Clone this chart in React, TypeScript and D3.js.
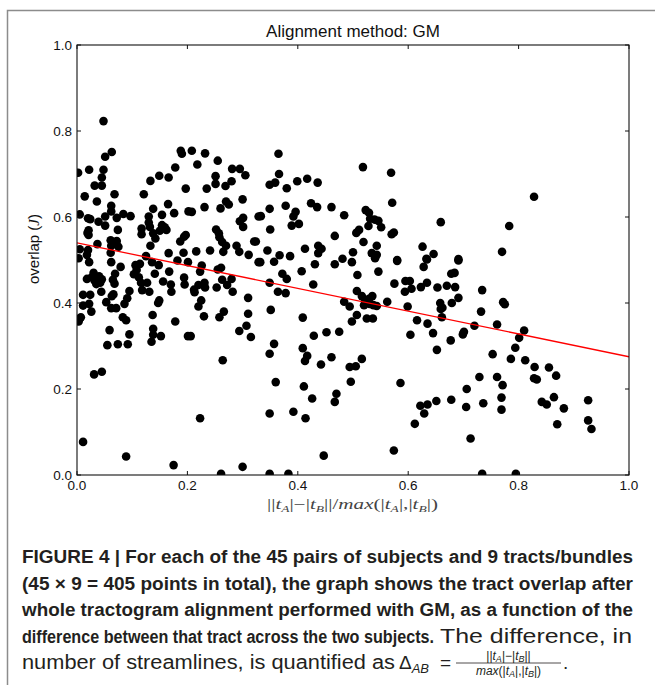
import * as d3 from 'd3'

type Pt = [number, number]

// [difference, overlap], grouped by x band
const bandA: Pt[] = [
  [0.048, 0.823], [0.063, 0.751], [0.051, 0.74], [0.048, 0.71], [0.022, 0.71], [0.002, 0.703], [0.045, 0.692],
  [0.045, 0.673], [0.032, 0.673], [0.014, 0.648], [0.068, 0.653], [0.036, 0.636], [0.062, 0.626], [0.062, 0.613],
  [0.005, 0.606], [0.051, 0.601], [0.084, 0.607], [0.097, 0.602], [0.072, 0.598], [0.024, 0.595], [0.039, 0.589],
  [0.051, 0.58], [0.021, 0.569], [0.074, 0.57], [0.021, 0.558], [0.061, 0.546], [0.072, 0.544], [0.037, 0.537],
  [0.062, 0.533], [0.075, 0.531], [0.018, 0.512], [0.061, 0.517], [0.003, 0.504], [0.005, 0.525], [0.02, 0.523],
  [0.019, 0.563], [0.02, 0.597], [0.022, 0.495], [0.027, 0.46], [0.018, 0.456], [0.032, 0.452], [0.04, 0.462],
  [0.045, 0.455], [0.042, 0.447], [0.035, 0.444], [0.03, 0.47], [0.065, 0.454], [0.069, 0.468], [0.062, 0.495],
  [0.079, 0.484], [0.068, 0.445], [0.044, 0.426], [0.011, 0.419], [0.024, 0.419], [0.011, 0.394], [0.007, 0.367],
  [0.003, 0.357], [0.026, 0.38], [0.053, 0.402], [0.063, 0.416], [0.066, 0.42], [0.062, 0.388], [0.071, 0.388],
  [0.059, 0.337], [0.055, 0.302], [0.074, 0.304], [0.092, 0.304], [0.095, 0.327], [0.083, 0.367], [0.089, 0.36],
  [0.086, 0.398], [0.091, 0.411], [0.095, 0.428], [0.031, 0.234], [0.045, 0.24], [0.011, 0.077], [0.089, 0.043],
  [0.022, 0.398], [0.005, 0.364],
]

const bandB: Pt[] = [
  [0.121, 0.653], [0.133, 0.684], [0.149, 0.696], [0.166, 0.692], [0.178, 0.715], [0.188, 0.754], [0.19, 0.747],
  [0.165, 0.63], [0.138, 0.619], [0.13, 0.601], [0.154, 0.605], [0.176, 0.609], [0.197, 0.666], [0.13, 0.587],
  [0.117, 0.573], [0.117, 0.56], [0.132, 0.577], [0.138, 0.562], [0.142, 0.55], [0.154, 0.581], [0.159, 0.576],
  [0.15, 0.568], [0.162, 0.57], [0.133, 0.533], [0.166, 0.516], [0.187, 0.543], [0.194, 0.554], [0.197, 0.558],
  [0.193, 0.517], [0.125, 0.509], [0.103, 0.467], [0.108, 0.477], [0.106, 0.488], [0.114, 0.491], [0.112, 0.46],
  [0.116, 0.447], [0.118, 0.43], [0.131, 0.426], [0.127, 0.447], [0.136, 0.495], [0.148, 0.488], [0.141, 0.468],
  [0.156, 0.45], [0.167, 0.473], [0.17, 0.443], [0.171, 0.426], [0.149, 0.406], [0.147, 0.4], [0.137, 0.372],
  [0.138, 0.34], [0.138, 0.326], [0.135, 0.31], [0.152, 0.323], [0.178, 0.357], [0.182, 0.499], [0.194, 0.459],
  [0.195, 0.443], [0.175, 0.023],
]

const bandC: Pt[] = [
  [0.208, 0.754], [0.232, 0.748], [0.255, 0.731], [0.218, 0.722], [0.281, 0.712], [0.295, 0.712], [0.305, 0.697],
  [0.251, 0.695], [0.28, 0.683], [0.251, 0.677], [0.269, 0.672], [0.235, 0.666], [0.202, 0.613], [0.208, 0.612],
  [0.231, 0.623], [0.26, 0.62], [0.27, 0.636], [0.275, 0.629], [0.3, 0.641], [0.301, 0.598], [0.295, 0.59],
  [0.329, 0.601], [0.216, 0.52], [0.241, 0.522], [0.252, 0.571], [0.257, 0.562], [0.258, 0.553], [0.263, 0.542],
  [0.265, 0.519], [0.27, 0.533], [0.289, 0.533], [0.294, 0.519], [0.311, 0.512], [0.321, 0.543], [0.301, 0.577],
  [0.201, 0.495], [0.223, 0.473], [0.226, 0.487], [0.212, 0.431], [0.213, 0.425], [0.22, 0.442], [0.231, 0.447],
  [0.232, 0.436], [0.225, 0.406], [0.22, 0.392], [0.23, 0.369], [0.201, 0.323], [0.206, 0.323], [0.253, 0.436],
  [0.263, 0.454], [0.28, 0.456], [0.272, 0.442], [0.282, 0.426], [0.261, 0.482], [0.255, 0.478], [0.258, 0.367],
  [0.266, 0.38], [0.264, 0.267], [0.223, 0.132], [0.294, 0.335], [0.307, 0.347], [0.31, 0.375], [0.315, 0.321],
  [0.31, 0.412], [0.261, 0.003], [0.3, 0.019], [0.329, 0.495], [0.332, 0.495], [0.324, 0.543], [0.333, 0.602],
  [0.345, 0.522],
]

const bandD: Pt[] = [
  [0.365, 0.747], [0.366, 0.7], [0.349, 0.675], [0.359, 0.68], [0.38, 0.667], [0.399, 0.683], [0.417, 0.689],
  [0.436, 0.68], [0.518, 0.716], [0.349, 0.619], [0.378, 0.626], [0.424, 0.632], [0.435, 0.623], [0.461, 0.623],
  [0.484, 0.604], [0.396, 0.612], [0.392, 0.601], [0.402, 0.584], [0.389, 0.58], [0.35, 0.571], [0.523, 0.616],
  [0.529, 0.61], [0.531, 0.596], [0.539, 0.594], [0.546, 0.591], [0.528, 0.579], [0.506, 0.563], [0.511, 0.57],
  [0.467, 0.556], [0.367, 0.511], [0.386, 0.509], [0.413, 0.526], [0.437, 0.533], [0.443, 0.526], [0.437, 0.516],
  [0.5, 0.518], [0.519, 0.542], [0.543, 0.533], [0.534, 0.516], [0.543, 0.512], [0.481, 0.503], [0.357, 0.496],
  [0.407, 0.474], [0.431, 0.49], [0.467, 0.49], [0.498, 0.495], [0.546, 0.473], [0.54, 0.504], [0.372, 0.468],
  [0.38, 0.456], [0.349, 0.447], [0.364, 0.426], [0.378, 0.423], [0.428, 0.443], [0.508, 0.465], [0.507, 0.428],
  [0.484, 0.403], [0.494, 0.392], [0.516, 0.416], [0.522, 0.405], [0.529, 0.41], [0.535, 0.416], [0.53, 0.398],
  [0.537, 0.395], [0.543, 0.393], [0.52, 0.395], [0.507, 0.372], [0.498, 0.357], [0.525, 0.364], [0.536, 0.364],
  [0.351, 0.384], [0.409, 0.366], [0.429, 0.324], [0.452, 0.332], [0.475, 0.333], [0.357, 0.305], [0.349, 0.282],
  [0.409, 0.295], [0.417, 0.277], [0.413, 0.265], [0.442, 0.257], [0.461, 0.274], [0.516, 0.27], [0.494, 0.251],
  [0.505, 0.253], [0.36, 0.216], [0.411, 0.206], [0.496, 0.217], [0.426, 0.178], [0.47, 0.189], [0.467, 0.17],
  [0.349, 0.143], [0.392, 0.147], [0.414, 0.132], [0.447, 0.045], [0.349, 0.003], [0.383, 0.003],
]

const bandE: Pt[] = [
  [0.569, 0.703], [0.571, 0.633], [0.551, 0.576], [0.57, 0.56], [0.574, 0.564], [0.659, 0.588], [0.626, 0.531],
  [0.646, 0.514], [0.633, 0.503], [0.58, 0.5], [0.828, 0.647], [0.783, 0.579], [0.77, 0.519], [0.691, 0.502],
  [0.58, 0.498], [0.634, 0.501], [0.628, 0.484], [0.562, 0.403], [0.575, 0.445], [0.595, 0.451], [0.603, 0.451],
  [0.594, 0.426], [0.606, 0.433], [0.623, 0.437], [0.634, 0.447], [0.653, 0.436], [0.599, 0.392], [0.616, 0.36],
  [0.635, 0.352], [0.645, 0.33], [0.658, 0.4], [0.659, 0.386], [0.604, 0.326], [0.652, 0.291], [0.586, 0.214],
  [0.622, 0.161], [0.635, 0.164], [0.629, 0.143], [0.612, 0.119], [0.651, 0.172], [0.574, 0.057], [0.691, 0.499],
  [0.678, 0.468], [0.684, 0.47], [0.67, 0.44], [0.685, 0.437], [0.691, 0.412], [0.679, 0.4], [0.662, 0.389],
  [0.734, 0.43], [0.732, 0.38], [0.772, 0.402], [0.775, 0.397], [0.661, 0.367], [0.72, 0.347], [0.761, 0.35],
  [0.701, 0.333], [0.699, 0.327], [0.677, 0.313], [0.81, 0.336], [0.801, 0.319], [0.794, 0.296], [0.753, 0.281],
  [0.786, 0.27], [0.812, 0.267], [0.829, 0.251], [0.855, 0.25], [0.828, 0.225], [0.833, 0.222], [0.868, 0.231],
  [0.729, 0.228], [0.761, 0.228], [0.771, 0.209], [0.706, 0.2], [0.678, 0.175], [0.705, 0.158], [0.736, 0.167],
  [0.769, 0.18], [0.769, 0.152], [0.842, 0.17], [0.851, 0.164], [0.864, 0.181], [0.882, 0.155], [0.87, 0.118],
  [0.926, 0.174], [0.926, 0.127], [0.932, 0.107], [0.713, 0.085], [0.734, 0.003], [0.795, 0.003],
]

const fitIntercept = 0.54
const fitSlope = -0.265
const xTicks = [0, 0.2, 0.4, 0.6, 0.8, 1.0]
const yTicks = [0, 0.2, 0.4, 0.6, 0.8, 1.0]

const title = 'Alignment method: GM'
const captionBold = [
  'FIGURE 4 | For each of the 45 pairs of subjects and 9 tracts/bundles',
  '(45 \u00d7 9 = 405 points in total), the graph shows the tract overlap after',
  'whole tractogram alignment performed with GM, as a function of the',
  'difference between that tract across the two subjects.',
]
const captionRegular = ['The difference, in', 'number of streamlines, is quantified as']

const W = 655
const H = 685
const m = { left: 77, right: 629, top: 45, bottom: 475 }

export default function App() {
  const x = d3.scaleLinear().domain([0, 1]).range([m.left, m.right])
  const y = d3.scaleLinear().domain([0, 1]).range([m.bottom, m.top])
  const points = [...bandA, ...bandB, ...bandC, ...bandD, ...bandE]
  const fit = d3.line<number>().x(d => x(d)).y(d => y(fitIntercept + fitSlope * d))([0, 1])

  const sans = 'Liberation Sans, Arial, sans-serif'
  const serif = 'Liberation Serif, Times New Roman, serif'
  const ink = '#231f20'
  const lineY = [563, 589.5, 616, 642.5, 669]
  const boldWidths = [611, 611, 611, 412]

  return (
    <svg width={W} height={H} style={{ position: 'absolute', left: 0, top: 0, background: '#fff' }} fontFamily={sans}>
      <defs>
        <clipPath id="plot-clip">
          <rect x={m.left} y={m.top} width={m.right - m.left} height={m.bottom - m.top} />
        </clipPath>
      </defs>

      {/* frame of the figure panel */}
      <path d={`M7.5,${H} V10.5 H${W}`} fill="none" stroke="#8c8c8c" strokeWidth={1.5} />

      <text x={(m.left + m.right) / 2} y={37} textAnchor="middle" fontSize={17} fill="#111">{title}</text>

      {/* dots, then the fit line on top */}
      <g clipPath="url(#plot-clip)">
        {points.map((p, i) => (
          <circle key={i} cx={x(p[0])} cy={y(p[1])} r={4.3} fill="#000" />
        ))}
        <path d={fit ?? ''} stroke="#ff0000" strokeWidth={1.3} fill="none" />
      </g>

      {/* axes box + inward ticks on all sides */}
      <rect x={m.left} y={m.top} width={m.right - m.left} height={m.bottom - m.top} fill="none" stroke="#111" strokeWidth={1.1} />
      {xTicks.map(t => (
        <g key={'x' + t}>
          <line x1={x(t)} x2={x(t)} y1={m.bottom} y2={m.bottom - 4} stroke="#111" />
          <line x1={x(t)} x2={x(t)} y1={m.top} y2={m.top + 4} stroke="#111" />
          <text x={x(t)} y={490} textAnchor="middle" fontSize={13.5} fill="#111">{t.toFixed(1)}</text>
        </g>
      ))}
      {yTicks.map(t => (
        <g key={'y' + t}>
          <line x1={m.left} x2={m.left + 4} y1={y(t)} y2={y(t)} stroke="#111" />
          <line x1={m.right} x2={m.right - 4} y1={y(t)} y2={y(t)} stroke="#111" />
          <text x={72} y={y(t) + 5} textAnchor="end" fontSize={13.5} fill="#111">{t.toFixed(1)}</text>
        </g>
      ))}

      {/* axis labels */}
      <text transform="translate(39,249) rotate(-90)" textAnchor="middle" fontSize={15} fill="#111">
        overlap (<tspan fontFamily={serif} fontStyle="italic">J</tspan>)
      </text>
      <text x={267} y={509} fontSize={14} fill="#444" fontFamily={serif} textLength={171} lengthAdjust="spacingAndGlyphs">
        ||<tspan fontStyle="italic">t</tspan><tspan fontSize={9} dy={3} fontStyle="italic">A</tspan>
        <tspan dy={-3}>|−|</tspan><tspan fontStyle="italic">t</tspan><tspan fontSize={9} dy={3} fontStyle="italic">B</tspan>
        <tspan dy={-3}>||/</tspan><tspan fontStyle="italic">max</tspan>(|<tspan fontStyle="italic">t</tspan>
        <tspan fontSize={9} dy={3} fontStyle="italic">A</tspan><tspan dy={-3}>|,|</tspan><tspan fontStyle="italic">t</tspan>
        <tspan fontSize={9} dy={3} fontStyle="italic">B</tspan><tspan dy={-3}>|)</tspan>
      </text>

      {/* caption */}
      {captionBold.map((s, i) => (
        <text key={i} x={22} y={lineY[i]} fontSize={18} fontWeight="bold" fill={ink}
          textLength={boldWidths[i]} lengthAdjust="spacingAndGlyphs">{s}</text>
      ))}
      <text x={440} y={lineY[3]} fontSize={19.5} fill={ink} textLength={192} lengthAdjust="spacingAndGlyphs">{captionRegular[0]}</text>
      <text x={22} y={lineY[4]} fontSize={19.5} fill={ink} textLength={373} lengthAdjust="spacingAndGlyphs">{captionRegular[1]}</text>
      <text x={399} y={lineY[4]} fontSize={19} fill={ink}>Δ<tspan fontSize={13} dy={4} fontStyle="italic">AB</tspan></text>
      <text x={440} y={lineY[4]} fontSize={19} fill={ink}>=</text>
      <line x1={456} x2={561} y1={lineY[4] - 6} y2={lineY[4] - 6} stroke={ink} strokeWidth={0.8} />
      <text x={508.5} y={lineY[4] - 9} textAnchor="middle" fontSize={12} fill={ink}>
        ||<tspan fontStyle="italic">t</tspan><tspan fontSize={9} dy={2} fontStyle="italic">A</tspan><tspan dy={-2}>|−|</tspan>
        <tspan fontStyle="italic">t</tspan><tspan fontSize={9} dy={2} fontStyle="italic">B</tspan><tspan dy={-2}>||</tspan>
      </text>
      <text x={508.5} y={lineY[4] + 6} textAnchor="middle" fontSize={12} fill={ink}>
        <tspan fontStyle="italic">max</tspan>(|<tspan fontStyle="italic">t</tspan><tspan fontSize={9} dy={2} fontStyle="italic">A</tspan>
        <tspan dy={-2}>|,|</tspan><tspan fontStyle="italic">t</tspan><tspan fontSize={9} dy={2} fontStyle="italic">B</tspan><tspan dy={-2}>|)</tspan>
      </text>
      <text x={563} y={lineY[4]} fontSize={19} fill={ink}>.</text>
    </svg>
  )
}
